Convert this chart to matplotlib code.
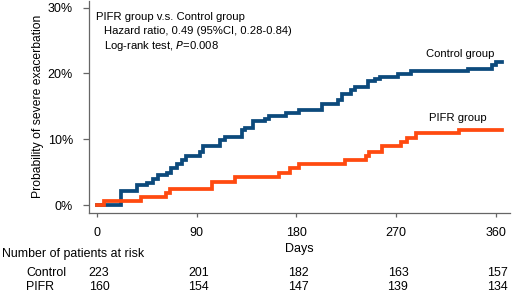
import matplotlib.pyplot as plt

plt.rcParams['font.family'] = ['Liberation Sans', 'DejaVu Sans']

# Kaplan-Meier style cumulative incidence (%)
control_days = [0, 22, 36, 45, 51, 55, 63, 67, 72, 77, 80, 93, 96, 111, 116, 131, 134, 141,
                152, 155, 171, 182, 203, 218, 221, 229, 233, 245, 251, 256, 272, 284, 335,
                357, 360, 366]
control_pct = [0.0, 2.2, 3.0, 3.3, 4.0, 4.6, 4.9, 5.6, 6.2, 6.8, 7.5, 8.1, 9.0, 9.9, 10.4, 11.4,
               11.7, 12.7, 13.0, 13.5, 14.0, 14.5, 15.4, 16.0, 16.9, 17.4, 18.0, 18.8, 19.1,
               19.5, 19.9, 20.3, 20.6, 21.3, 21.8, 21.8]

pifr_days = [0, 6, 40, 62, 66, 104, 125, 164, 174, 182, 224, 243, 246, 257, 275, 280, 288,
             327, 366]
pifr_pct = [0.0, 0.6, 1.2, 1.8, 2.4, 3.5, 4.2, 4.9, 5.6, 6.2, 6.8, 7.5, 8.1, 8.9, 9.6, 10.2,
            10.9, 11.4, 11.4]

xticks = [0, 90, 180, 270, 360]
yticks = [0, 10, 20, 30]
risk_control = [223, 201, 182, 163, 157]
risk_pifr = [160, 154, 147, 139, 134]

blue = '#0c4a7c'
orange = '#ff4a10'
grey = '#666666'

fig = plt.figure(figsize=(5.12, 2.94), dpi=100)
ax = fig.add_axes([89 / 512, 1 - 212.7 / 294, (510 - 89) / 512, (212.7 - 1) / 294])

ax.step(control_days, control_pct, where='post', color=blue, lw=2.7, zorder=3,
        solid_joinstyle='miter')
ax.step(pifr_days, pifr_pct, where='post', color=orange, lw=2.7, zorder=4,
        solid_joinstyle='miter')

ax.set_xlim(-7.2, 373)
ax.set_ylim(-1.17, 31.0)
ax.set_xticks(xticks)
ax.set_yticks(yticks)
ax.set_yticklabels([f'{v}%' for v in yticks])
for s in ['top', 'right']:
    ax.spines[s].set_visible(False)
for s in ['left', 'bottom']:
    ax.spines[s].set_color(grey)
    ax.spines[s].set_linewidth(0.9)
ax.tick_params(axis='x', length=3, width=0.9, color=grey, pad=7, labelsize=9)
ax.tick_params(axis='y', length=4.5, width=0.9, color=grey, pad=7, labelsize=9)

ax.set_xlabel('Days', fontsize=9, labelpad=3)
ax.set_ylabel('Probability of severe exacerbation', fontsize=8.7, labelpad=3)

# annotation block
ax.text(0.017, 0.926, 'PIFR group v.s. Control group', transform=ax.transAxes,
        fontsize=8.1, va='center')
ax.text(0.036, 0.858, 'Hazard ratio, 0.49 (95%CI, 0.28-0.84)', transform=ax.transAxes,
        fontsize=8.1, va='center')
ax.text(0.036, 0.787, 'Log-rank test, $\\mathit{P}$=0.008', transform=ax.transAxes,
        fontsize=8.1, va='center')

ax.text(359, 22.9, 'Control group', fontsize=8.1, ha='right', va='center')
ax.text(351.5, 13.2, 'PIFR group', fontsize=8.1, ha='right', va='center')

# numbers at risk table
fig.text(2 / 512, 1 - 254 / 294, 'Number of patients at risk', fontsize=8.9, va='center')
fig.text(26 / 512, 1 - 273.3 / 294, 'Control', fontsize=8.9, va='center')
fig.text(26 / 512, 1 - 286.7 / 294, 'PIFR', fontsize=8.9, va='center')
for d, c, p in zip(xticks, risk_control, risk_pifr):
    x_fig = fig.transFigure.inverted().transform(ax.transData.transform((d, 0)))[0]
    fig.text(x_fig + 2 / 512, 1 - 273.3 / 294, str(c), fontsize=8.9, ha='center', va='center')
    fig.text(x_fig + 2 / 512, 1 - 286.7 / 294, str(p), fontsize=8.9, ha='center', va='center')

fig.savefig('out.png', dpi=100)
